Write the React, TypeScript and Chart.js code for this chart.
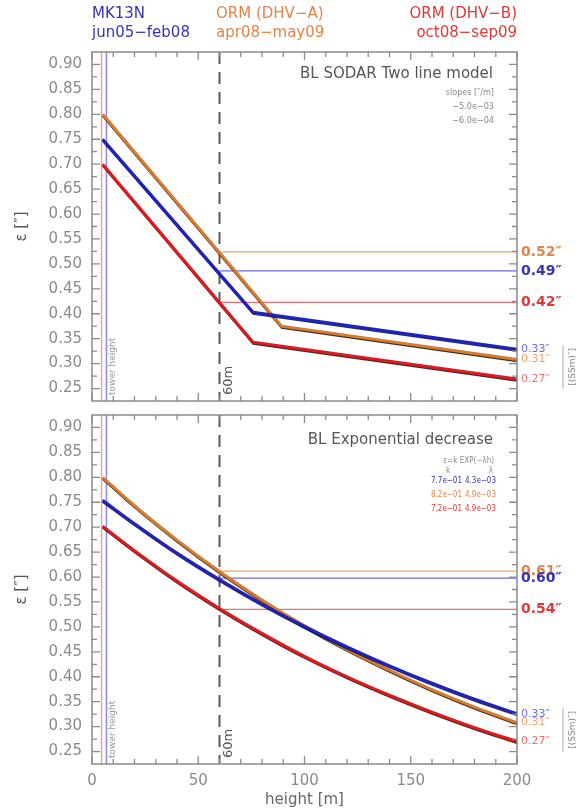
import React, { useEffect, useRef } from "react";
import { Chart, registerables } from "chart.js";
Chart.register(...registerables);

// ---------- data ----------
const seriesNames = ["MK13N", "ORM (DHV\u2212A)", "ORM (DHV\u2212B)"];
const seriesPeriods = ["jun05\u2212feb08", "apr08\u2212may09", "oct08\u2212sep09"];

const xRange = [0, 200];
const yRange = [0.225, 0.925];
const xTickValues = [0, 50, 100, 150, 200];
const xMinorTicks = [10, 20, 30, 40, 60, 70, 80, 90, 110, 120, 130, 140, 160, 170, 180, 190];
const yTickValues = [0.25, 0.3, 0.35, 0.4, 0.45, 0.5, 0.55, 0.6, 0.65, 0.7, 0.75, 0.8, 0.85, 0.9];
const yMinorTicks = [0.275, 0.325, 0.375, 0.425, 0.475, 0.525, 0.575, 0.625, 0.675, 0.725, 0.775, 0.825, 0.875];

// Top panel: BL SODAR two line model
const twoLineHeightsMK13N = [5, 75.8, 200];
const twoLineSeeingMK13N = [0.75, 0.403, 0.329];
const twoLineHeightsDHVA = [5, 89.2, 200];
const twoLineSeeingDHVA = [0.8, 0.375, 0.308];
const twoLineHeightsDHVB = [5, 75.8, 200];
const twoLineSeeingDHVB = [0.7, 0.343, 0.269];
const twoLineSlopes = ["\u22125.0e\u221203", "\u22126.0e\u221204"];
const twoLineMeans = [0.486, 0.524, 0.423];
const twoLineMeanLabels = ["0.49\u2033", "0.52\u2033", "0.42\u2033"];
const twoLineEndLabels = ["0.33\u2033", "0.31\u2033", "0.27\u2033"];

// Bottom panel: BL exponential decrease
const expHeights = [5, 20, 40, 60, 80, 100, 120, 140, 160, 180, 200];
const expSeeingMK13N = [0.754, 0.707, 0.648, 0.595, 0.546, 0.501, 0.46, 0.422, 0.387, 0.355, 0.326];
const expSeeingDHVA = [0.8, 0.743, 0.674, 0.611, 0.554, 0.502, 0.455, 0.413, 0.374, 0.339, 0.308];
const expSeeingDHVB = [0.702, 0.653, 0.592, 0.537, 0.487, 0.441, 0.4, 0.363, 0.329, 0.298, 0.27];
const expK = ["7.7e\u221201", "8.2e\u221201", "7.2e\u221201"];
const expLambda = ["4.3e\u221203", "4.9e\u221203", "4.9e\u221203"];
const expMeans = [0.598, 0.612, 0.535];
const expMeanLabels = ["0.60\u2033", "0.61\u2033", "0.54\u2033"];
const expEndLabels = ["0.33\u2033", "0.31\u2033", "0.27\u2033"];

const towerHeights = [4.5, 6.8]; // ORM, MK13N
const refHeight = 60;
const bracketRange = [0.337, 0.25];

// ---------- styles ----------
const FONT = "'DejaVu Sans', sans-serif";
const SMALL = "'DejaVu Sans Condensed', 'Liberation Sans Narrow', 'DejaVu Sans', sans-serif";
const lineColors = ["#1e22c2", "#d97a2c", "#e2181c"];
const refColors = ["#6b6be4", "#f0a26a", "#e87272"];
const textColors = ["#3535b5", "#e0844a", "#dc3a3a"];
const towerColors = ["#e8a4a4", "#8a8ae8"];
const AXIS_GRAY = "#8a8a8a";

function txt(ctx: any, s: string, x: number, y: number, font: string, color: string, align = "left", rot = 0, baseline = "middle") {
  ctx.save();
  ctx.translate(x, y);
  if (rot) ctx.rotate(rot);
  ctx.font = font;
  ctx.fillStyle = color;
  ctx.textAlign = align;
  ctx.textBaseline = baseline;
  ctx.fillText(s, 0, 0);
  ctx.restore();
}

const shadowPlugin = {
  id: "lineShadow",
  beforeDatasetDraw(chart: any, args: any) {
    const ds = chart.data.datasets[args.index];
    if (!ds.shadow) return;
    const ctx = chart.ctx;
    ctx.save();
    ctx.shadowColor = "rgba(0,0,0,0.8)";
    ctx.shadowOffsetX = 0.4;
    ctx.shadowOffsetY = 1.2;
    ctx.shadowBlur = 0;
  },
  afterDatasetDraw(chart: any, args: any) {
    const ds = chart.data.datasets[args.index];
    if (ds.shadow) chart.ctx.restore();
  },
};

function makeDecor(kind: "top" | "bottom") {
  const means = kind === "top" ? twoLineMeans : expMeans;
  const meanLabels = kind === "top" ? twoLineMeanLabels : expMeanLabels;
  const endLabels = kind === "top" ? twoLineEndLabels : expEndLabels;
  const endValues =
    kind === "top"
      ? [twoLineSeeingMK13N, twoLineSeeingDHVA, twoLineSeeingDHVB].map((a) => a[a.length - 1])
      : [expSeeingMK13N, expSeeingDHVA, expSeeingDHVB].map((a) => a[a.length - 1]);
  return {
    id: "decor",
    beforeDatasetsDraw(chart: any) {
      const { ctx, chartArea: a, scales } = chart;
      const x = scales.x.getPixelForValue(refHeight);
      ctx.save();
      ctx.strokeStyle = "#5a5a5a";
      ctx.lineWidth = 2;
      ctx.setLineDash([12, 8]);
      ctx.beginPath();
      ctx.moveTo(x, a.top);
      ctx.lineTo(x, a.bottom);
      ctx.stroke();
      ctx.restore();
    },
    afterDraw(chart: any) {
      const { ctx, chartArea: a, scales } = chart;
      const xs = scales.x;
      const ys = scales.y;
      ctx.save();
      ctx.strokeStyle = AXIS_GRAY;
      ctx.lineWidth = 1.5;
      ctx.strokeRect(a.left, a.top, a.right - a.left, a.bottom - a.top);
      ctx.lineWidth = 1.3;
      ctx.beginPath();
      const yt = (v: number, len: number) => {
        const p = ys.getPixelForValue(v);
        ctx.moveTo(a.left, p);
        ctx.lineTo(a.left + len, p);
        ctx.moveTo(a.right, p);
        ctx.lineTo(a.right - len, p);
      };
      yTickValues.forEach((v) => yt(v, 8));
      yMinorTicks.forEach((v) => yt(v, 5));
      const xt = (v: number, len: number) => {
        const p = xs.getPixelForValue(v);
        ctx.moveTo(p, a.top);
        ctx.lineTo(p, a.top + len);
        ctx.moveTo(p, a.bottom);
        ctx.lineTo(p, a.bottom - len);
      };
      xTickValues.forEach((v) => xt(v, 8));
      xMinorTicks.forEach((v) => xt(v, 5));
      ctx.stroke();
      ctx.restore();

      txt(ctx, "\u03b5 [\u2033]", 22, (a.top + a.bottom) / 2, `15px ${FONT}`, "#555", "center", -Math.PI / 2);

      const tx = xs.getPixelForValue(towerHeights[1]) + 6;
      txt(ctx, "tower height", tx, a.bottom - 6, `9px ${FONT}`, "#9a9a9a", "left", -Math.PI / 2);
      const rx = xs.getPixelForValue(refHeight) + 9;
      txt(ctx, "60m", rx, a.bottom - 6, `13px ${FONT}`, "#555", "left", -Math.PI / 2);

      const order = [1, 0, 2];
      order.forEach((i) => {
        txt(ctx, meanLabels[i], a.right + 4, ys.getPixelForValue(means[i]), `bold 14px ${FONT}`, textColors[i]);
      });
      order.forEach((i) => {
        txt(ctx, endLabels[i], a.right + 4, ys.getPixelForValue(endValues[i]), `11px ${FONT}`, refColors[i]);
      });
      ctx.save();
      ctx.strokeStyle = "#aaa";
      ctx.lineWidth = 1;
      ctx.beginPath();
      ctx.moveTo(a.right + 46, ys.getPixelForValue(bracketRange[0]));
      ctx.lineTo(a.right + 46, ys.getPixelForValue(bracketRange[1]));
      ctx.stroke();
      ctx.restore();
      txt(
        ctx,
        "[(SSm)\u2033]",
        a.right + 56,
        (ys.getPixelForValue(bracketRange[0]) + ys.getPixelForValue(bracketRange[1])) / 2,
        `9px ${FONT}`,
        "#888",
        "center",
        -Math.PI / 2
      );

      if (kind === "top") {
        const hf = `15px ${FONT}`;
        txt(ctx, seriesNames[0], a.left, 14, hf, textColors[0]);
        txt(ctx, seriesPeriods[0], a.left, 33, hf, textColors[0]);
        txt(ctx, seriesNames[1], 216, 14, hf, textColors[1]);
        txt(ctx, seriesPeriods[1], 216, 33, hf, textColors[1]);
        txt(ctx, seriesNames[2], a.right, 14, hf, textColors[2], "right");
        txt(ctx, seriesPeriods[2], a.right, 33, hf, textColors[2], "right");
        txt(ctx, "BL SODAR Two line model", a.right - 24, a.top + 22, `15px ${FONT}`, "#555", "right");
        txt(ctx, "slopes [\u2033/m]", a.right - 23, a.top + 41, `9px ${SMALL}`, "#888", "right");
        txt(ctx, twoLineSlopes[0], a.right - 23, a.top + 55, `9px ${SMALL}`, "#888", "right");
        txt(ctx, twoLineSlopes[1], a.right - 23, a.top + 69, `9px ${SMALL}`, "#888", "right");
      } else {
        txt(ctx, "BL Exponential decrease", a.right - 24, a.top + 25, `15px ${FONT}`, "#555", "right");
        txt(ctx, "\u03b5=k EXP(\u2212\u03bbh)", a.right - 23, a.top + 46, `8px ${SMALL}`, "#888", "right");
        txt(ctx, "k", a.right - 69, a.top + 56, `8px ${SMALL}`, "#888", "center");
        txt(ctx, "\u03bb", a.right - 26, a.top + 56, `8px ${SMALL}`, "#888", "center");
        for (let i = 0; i < 3; i++) {
          txt(ctx, expK[i], a.right - 55, a.top + 66 + i * 14, `8px ${SMALL}`, textColors[i], "right");
          txt(ctx, expLambda[i], a.right - 21, a.top + 66 + i * 14, `8px ${SMALL}`, textColors[i], "right");
        }
        txt(ctx, "height [m]", (a.left + a.right) / 2, a.bottom + 36, `15px ${FONT}`, "#666", "center");
      }
    },
  };
}

function pts(xs: number[], ys: number[]) {
  return xs.map((x, i) => ({ x, y: ys[i] }));
}

function buildDatasets(kind: "top" | "bottom") {
  const main =
    kind === "top"
      ? [
          pts(twoLineHeightsMK13N, twoLineSeeingMK13N),
          pts(twoLineHeightsDHVA, twoLineSeeingDHVA),
          pts(twoLineHeightsDHVB, twoLineSeeingDHVB),
        ]
      : [
          pts(expHeights, expSeeingMK13N),
          pts(expHeights, expSeeingDHVA),
          pts(expHeights, expSeeingDHVB),
        ];
  const means = kind === "top" ? twoLineMeans : expMeans;
  const ds: any[] = [];
  main.forEach((data, i) => {
    ds.push({
      data,
      borderColor: lineColors[i],
      borderWidth: 3,
      pointRadius: 0,
      tension: kind === "bottom" ? 0.4 : 0,
      cubicInterpolationMode: kind === "bottom" ? "monotone" : "default",
      shadow: true,
    });
  });
  means.forEach((m, i) => {
    ds.push({
      data: [
        { x: refHeight, y: m },
        { x: xRange[1], y: m },
      ],
      borderColor: refColors[i],
      borderWidth: 1.2,
      pointRadius: 0,
    });
  });
  towerHeights.forEach((h, i) => {
    ds.push({
      data: [
        { x: h, y: yRange[0] },
        { x: h, y: yRange[1] },
      ],
      borderColor: towerColors[i],
      borderWidth: 1.5,
      pointRadius: 0,
    });
  });
  return ds;
}

function makeChart(canvas: HTMLCanvasElement, kind: "top" | "bottom") {
  return new Chart(canvas, {
    type: "line",
    data: { datasets: buildDatasets(kind) },
    options: {
      animation: false,
      responsive: false,
      devicePixelRatio: 1,
      parsing: false as any,
      layout: { padding: { top: kind === "top" ? 52 : 12, right: 63, left: 0, bottom: 0 } },
      plugins: { legend: { display: false }, tooltip: { enabled: false } },
      scales: {
        x: {
          type: "linear",
          min: xRange[0],
          max: xRange[1],
          afterBuildTicks: (s: any) => {
            s.ticks = xTickValues.map((v) => ({ value: v }));
          },
          ticks: {
            display: kind === "bottom",
            font: { family: FONT, size: 15 },
            color: AXIS_GRAY,
            padding: 8,
            maxRotation: 0,
            autoSkip: false,
            callback: (v: any) => String(v),
          },
          grid: { display: false, drawTicks: false },
          border: { display: false },
          afterFit: (s: any) => {
            s.height = kind === "bottom" ? 48 : 12;
          },
        },
        y: {
          type: "linear",
          min: yRange[0],
          max: yRange[1],
          afterBuildTicks: (s: any) => {
            s.ticks = yTickValues.map((v) => ({ value: v }));
          },
          ticks: {
            font: { family: FONT, size: 15 },
            color: AXIS_GRAY,
            padding: 10,
            autoSkip: false,
            callback: (v: any) => Number(v).toFixed(2),
          },
          grid: { display: false, drawTicks: false },
          border: { display: false },
          afterFit: (s: any) => {
            s.width = 92;
          },
        },
      } as any,
    } as any,
    plugins: [shadowPlugin, makeDecor(kind)] as any,
  });
}

export default function App() {
  const topRef = useRef<HTMLCanvasElement>(null);
  const botRef = useRef<HTMLCanvasElement>(null);
  useEffect(() => {
    const c1 = makeChart(topRef.current!, "top");
    const c2 = makeChart(botRef.current!, "bottom");
    return () => {
      c1.destroy();
      c2.destroy();
    };
  }, []);
  return (
    <div style={{ position: "absolute", left: 0, top: 0, width: 580, height: 812, background: "#fff", overflow: "hidden" }}>
      <canvas ref={topRef} width={580} height={420} style={{ position: "absolute", left: 0, top: 0, width: 580, height: 420 }} />
      <canvas ref={botRef} width={580} height={416} style={{ position: "absolute", left: 0, top: 396, width: 580, height: 416 }} />
    </div>
  );
}
